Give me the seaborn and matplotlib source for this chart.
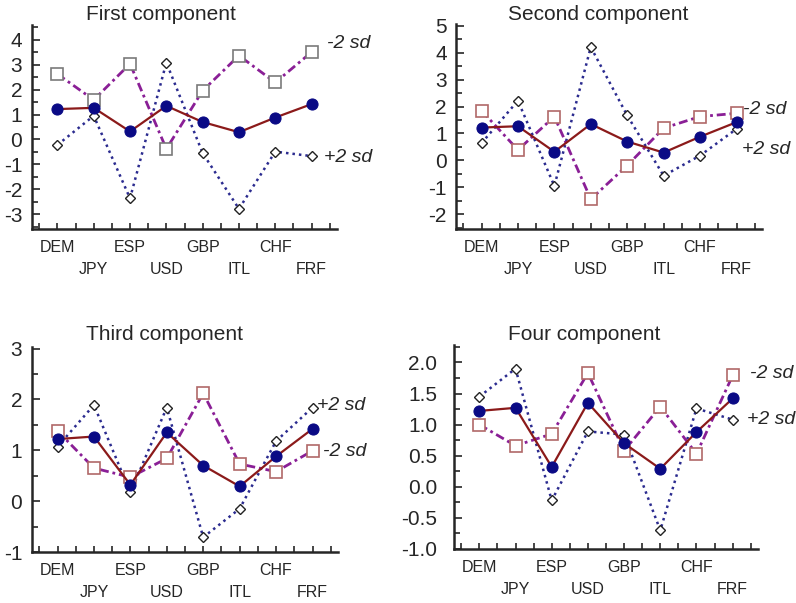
import matplotlib
matplotlib.use("Agg")
import matplotlib.pyplot as plt
import seaborn as sns
import numpy as np
import pandas as pd
from matplotlib.ticker import MultipleLocator

sns.set_style("ticks")
plt.rcParams['font.family'] = ['Liberation Sans', 'DejaVu Sans']
plt.rcParams['axes.unicode_minus'] = False

categories = ["DEM", "JPY", "ESP", "USD", "GBP", "ITL", "CHF", "FRF"]
mean_vals = [1.22, 1.27, 0.32, 1.35, 0.70, 0.29, 0.88, 1.42]

titles = ["First component", "Second component", "Third component", "Four component"]

minus_first = [2.63, 1.59, 3.04, -0.38, 1.96, 3.37, 2.29, 3.51]
plus_first = [-0.22, 0.95, -2.37, 3.09, -0.55, -2.79, -0.49, -0.67]

minus_second = [1.85, 0.39, 1.63, -1.44, -0.19, 1.20, 1.63, 1.75]
plus_second = [0.64, 2.22, -0.95, 4.21, 1.67, -0.57, 0.18, 1.17]

minus_third = [1.38, 0.65, 0.47, 0.84, 2.12, 0.73, 0.58, 0.99]
plus_third = [1.07, 1.89, 0.17, 1.84, -0.71, -0.15, 1.18, 1.84]

minus_four = [1.00, 0.66, 0.85, 1.83, 0.58, 1.29, 0.53, 1.79]
plus_four = [1.45, 1.90, -0.22, 0.89, 0.84, -0.70, 1.26, 1.08]

minus_series = [minus_first, minus_second, minus_third, minus_four]
plus_series = [plus_first, plus_second, plus_third, plus_four]

W, H = 796, 603
fig = plt.figure(figsize=(W / 100, H / 100), dpi=100)

# axes boxes in pixels: left, right, top, bottom
boxes = [(32, 337, 25, 229), (456, 762, 24, 229), (32, 338, 347, 552), (454, 758, 345, 549)]
ylims = [(-3.6, 4.6), (-2.55, 5.07), (-1.0, 3.03), (-1.0, 2.28)]
ymaj = [1, 1, 1, 0.5]
ymin = [0.5, 0.5, 0.5, 0.25]
ypad = [7, 6.5, 7, 12]
sq_edge = ["#7a7a7a", "#b06868", "#b06868", "#b06868"]
yfmt = [None, None, None, "%.1f"]
title_pos = [(161, 15), (598, 15), (164, 335), (584, 335)]
label_pos = [
    [("-2 sd", 327, 43), ("+2 sd", 324, 157)],
    [("-2 sd", 743, 109), ("+2 sd", 742, 150)],
    [("+2 sd", 317, 405), ("-2 sd", 323, 452)],
    [("-2 sd", 750, 373), ("+2 sd", 747, 419)],
]

x = np.arange(len(categories))

for i in range(4):
    l, r, t, b = boxes[i]
    ax = fig.add_axes([l / W, 1 - b / H, (r - l) / W, (b - t) / H])
    df = pd.DataFrame({"x": x, "mean": mean_vals, "minus": minus_series[i], "plus": plus_series[i]})

    sns.lineplot(data=df, x="x", y="plus", ax=ax, color="#2b2b8f", linewidth=1.8,
                 linestyle=(0, (1, 1.6)), marker="D", markersize=5.5,
                 markerfacecolor="white", markeredgecolor="#222222", markeredgewidth=1.0)
    sns.lineplot(data=df, x="x", y="minus", ax=ax, color="#8a1f96", linewidth=2.0,
                 linestyle=(0, (3.2, 1.4, 1, 1.4)), marker="s", markersize=8.5,
                 markerfacecolor="white", markeredgecolor=sq_edge[i], markeredgewidth=1.2)
    sns.lineplot(data=df, x="x", y="mean", ax=ax, color="#8b1a1a", linewidth=1.6,
                 marker="o", markersize=8, markerfacecolor="#0a0a85",
                 markeredgecolor="#0a0a85")

    ax.set_xlim(-0.7, 7.7)
    ax.set_ylim(*ylims[i])
    ax.set_xlabel("")
    ax.set_ylabel("")
    ax.set_xticks(x)
    ax.set_xticklabels([c if k % 2 == 0 else "\n" + c for k, c in enumerate(categories)],
                       fontsize=11.5, linespacing=1.6)
    ax.xaxis.set_minor_locator(MultipleLocator(0.5))
    ax.yaxis.set_major_locator(MultipleLocator(ymaj[i]))
    ax.yaxis.set_minor_locator(MultipleLocator(ymin[i]))
    if yfmt[i]:
        ax.yaxis.set_major_formatter(matplotlib.ticker.FormatStrFormatter(yfmt[i]))
    ax.tick_params(axis="y", which="major", direction="in", length=6, width=1.2,
                   labelsize=15, pad=ypad[i])
    ax.tick_params(axis="y", which="minor", direction="in", length=4, width=1.2)
    ax.tick_params(axis="x", which="both", direction="in", length=4, width=1.2, pad=8)
    for s in ["top", "right"]:
        ax.spines[s].set_visible(False)
    for s in ["left", "bottom"]:
        ax.spines[s].set_linewidth(1.8)
    ax.patch.set_alpha(0)
    if ax.get_legend():
        ax.get_legend().remove()

    tx, ty = title_pos[i]
    fig.text(tx / W, 1 - ty / H, titles[i], ha="center", va="center", fontsize=15)
    for txt, lx, ly in label_pos[i]:
        fig.text(lx / W, 1 - ly / H, txt, ha="left", va="center", fontsize=14, style="italic")

fig.savefig("out.png", dpi=100)
